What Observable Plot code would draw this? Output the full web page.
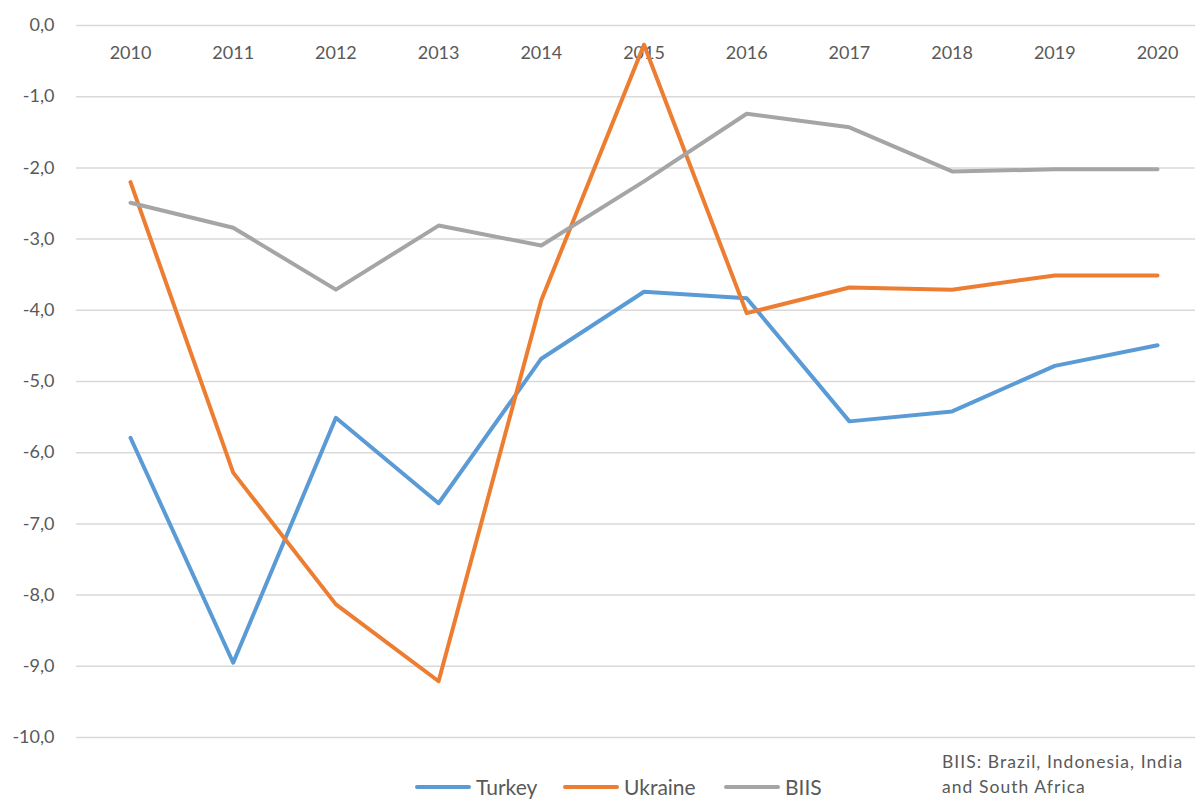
<!DOCTYPE html>
<html>
<head>
<meta charset="utf-8">
<script src="https://cdn.jsdelivr.net/npm/d3@7"></script>
<script src="https://cdn.jsdelivr.net/npm/@observablehq/plot@0.6"></script>
<style>
  html, body { margin: 0; padding: 0; background: #fff; overflow: hidden; }
  #wrap { position: relative; width: 1199px; height: 799px; font-family: Lato, "Open Sans", sans-serif; color: #595959; }
  #chart svg { background: transparent; }
  #legend { position: absolute; left: 0; top: 774px; width: 1199px; height: 26px; }
  .item { position: absolute; top: 0; display: flex; align-items: center; font-size: 21px; }
  .swatch { width: 56px; height: 4px; border-radius: 2px; margin-right: 5px; }
  #note { position: absolute; left: 942px; top: 749px; font-size: 17.5px; line-height: 25px; letter-spacing: 1.05px; }
</style>
</head>
<body>
<div id="wrap">
  <div id="chart"></div>
  <div id="legend"></div>
  <div id="note">BIIS: Brazil, Indonesia, India<br>and South Africa</div>
</div>
<script>
const years = [2010, 2011, 2012, 2013, 2014, 2015, 2016, 2017, 2018, 2019, 2020];
const turkey  = [-5.79, -8.95, -5.51, -6.71, -4.68, -3.74, -3.83, -5.56, -5.42, -4.78, -4.49];
const ukraine = [-2.20, -6.28, -8.13, -9.21, -3.86, -0.27, -4.04, -3.68, -3.71, -3.51, -3.51];
const biis    = [-2.49, -2.84, -3.71, -2.81, -3.09, -2.19, -1.24, -1.43, -2.05, -2.02, -2.02];
const seriesNames = ["Turkey", "Ukraine", "BIIS"];
const seriesColors = ["#5B9BD5", "#ED7D31", "#A5A5A5"];
const yTicks = [0, -1, -2, -3, -4, -5, -6, -7, -8, -9, -10];

const seriesValues = [turkey, ukraine, biis];
const data = [];
seriesNames.forEach((name, i) => {
  years.forEach((yr, j) => data.push({series: name, year: yr, value: seriesValues[i][j]}));
});

const fmt = d => d.toFixed(1).replace(".", ",");

const chart = Plot.plot({
  width: 1199,
  height: 760,
  marginTop: 25,
  marginBottom: 23,
  marginLeft: 76,
  marginRight: 4,
  style: {fontFamily: "Lato, 'Open Sans', sans-serif", fontSize: "18px", color: "#595959", background: "transparent", overflow: "visible"},
  x: {domain: [2010, 2020], range: [130, 1157], axis: null},
  y: {domain: [-10, 0], ticks: yTicks, tickFormat: fmt, tickSize: 0, tickPadding: 21, label: null, grid: false},
  color: {domain: seriesNames, range: seriesColors},
  marks: [
    Plot.gridY(yTicks, {stroke: "#d9d9d9", strokeOpacity: 1, strokeWidth: 1.5}),
    Plot.axisY(yTicks, {tickFormat: fmt, tickSize: 0, tickPadding: 22, fill: "#595959", fontSize: 18, label: null}),
    Plot.text(years, {x: d => d, y: 0, dy: 28, text: d => String(d), fill: "#595959", fontSize: 18, textAnchor: "middle"}),
    Plot.line(data, {x: "year", y: "value", z: "series", stroke: "series", strokeWidth: 4, strokeLinecap: "round", strokeLinejoin: "round"})
  ]
});
document.getElementById("chart").appendChild(chart);

const legend = document.getElementById("legend");
const legendLeft = [415, 563, 724];
seriesNames.forEach((name, i) => {
  const it = document.createElement("div");
  it.className = "item";
  it.style.left = legendLeft[i] + "px";
  const sw = document.createElement("div");
  sw.className = "swatch";
  sw.style.background = seriesColors[i];
  const tx = document.createElement("span");
  tx.textContent = name;
  it.appendChild(sw);
  it.appendChild(tx);
  legend.appendChild(it);
});
</script>
</body>
</html>
